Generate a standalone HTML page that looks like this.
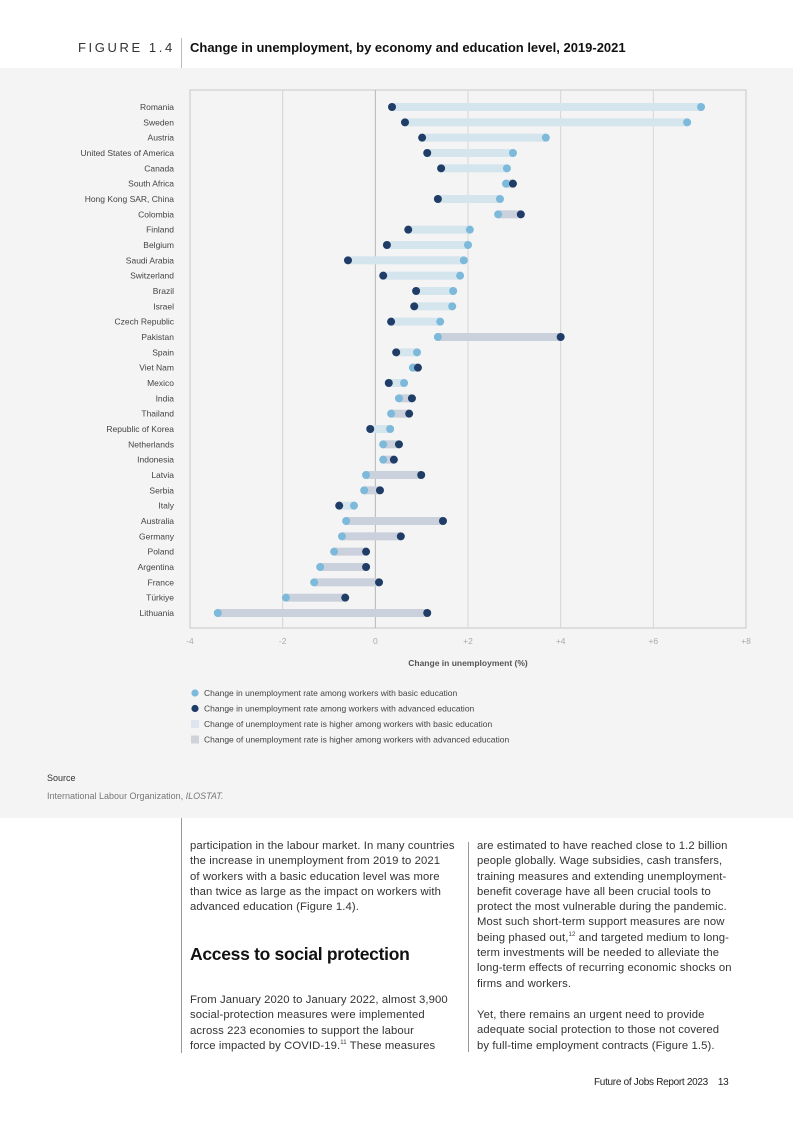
<!DOCTYPE html>
<html><head><meta charset="utf-8">
<style>
*{margin:0;padding:0;box-sizing:border-box}
body{width:793px;height:1122px;position:relative;background:#fff;font-family:"Liberation Sans",Arial,sans-serif;overflow:hidden}
.abs{position:absolute}
.body-text{font-size:11.3px;line-height:15.3px;color:#333;letter-spacing:0.1px;white-space:nowrap}
</style></head><body>
<div class="abs" style="left:78px;top:40px;font-size:13px;letter-spacing:2.6px;color:#333">FIGURE 1.4</div>
<div class="abs" style="left:181px;top:38px;width:1px;height:30px;background:#bbb"></div>
<div class="abs" style="left:190px;top:40px;font-size:13px;font-weight:bold;color:#111">Change in unemployment, by economy and education level, 2019-2021</div>
<div class="abs" style="left:0;top:68px;width:793px;height:750px;background:#f4f4f4"></div>
<svg class="abs" style="left:0;top:0" width="793" height="818" id="chart"></svg>
<div class="abs" style="left:47px;top:773px;font-size:9px;color:#333">Source</div>
<div class="abs" style="left:47px;top:791px;font-size:9px;color:#777">International Labour Organization, <i>ILOSTAT.</i></div>
<div class="abs" style="left:181px;top:818px;width:1px;height:235px;background:#999"></div>
<div class="abs" style="left:468px;top:842px;width:1px;height:210px;background:#999"></div>
<div class="abs body-text" style="left:190px;top:839px">participation in the labour market. In many countries<br>the increase in unemployment from 2019 to 2021<br>of workers with a basic education level was more<br>than twice as large as the impact on workers with<br>advanced education (Figure 1.4).</div>
<div class="abs" style="left:190px;top:944px;font-size:17.5px;font-weight:bold;color:#111;letter-spacing:-0.3px">Access to social protection</div>
<div class="abs body-text" style="left:190px;top:993px">From January 2020 to January 2022, almost 3,900<br>social-protection measures were implemented<br>across 223 economies to support the labour<br>force impacted by COVID-19.<sup style="font-size:6px;line-height:0">11</sup> These measures</div>
<div class="abs body-text" style="left:477px;top:839px">are estimated to have reached close to 1.2 billion<br>people globally. Wage subsidies, cash transfers,<br>training measures and extending unemployment-<br>benefit coverage have all been crucial tools to<br>protect the most vulnerable during the pandemic.<br>Most such short-term support measures are now<br>being phased out,<sup style="font-size:6px;line-height:0">12</sup> and targeted medium to long-<br>term investments will be needed to alleviate the<br>long-term effects of recurring economic shocks on<br>firms and workers.</div>
<div class="abs body-text" style="left:477px;top:1008px">Yet, there remains an urgent need to provide<br>adequate social protection to those not covered<br>by full-time employment contracts (Figure 1.5).</div>
<div class="abs" style="left:594px;top:1077px;font-size:10px;color:#222;letter-spacing:-0.3px">Future of Jobs Report 2023 &nbsp;&nbsp;&nbsp;13</div>
<script>
const countries=["Romania","Sweden","Austria","United States of America","Canada","South Africa","Hong Kong SAR, China","Colombia","Finland","Belgium","Saudi Arabia","Switzerland","Brazil","Israel","Czech Republic","Pakistan","Spain","Viet Nam","Mexico","India","Thailand","Republic of Korea","Netherlands","Indonesia","Latvia","Serbia","Italy","Australia","Germany","Poland","Argentina","France","Türkiye","Lithuania"];
const basicEdu=[7.03,6.73,3.68,2.97,2.84,2.82,2.69,2.65,2.04,2.0,1.91,1.83,1.68,1.66,1.40,1.35,0.90,0.81,0.62,0.51,0.34,0.32,0.17,0.17,-0.20,-0.24,-0.46,-0.63,-0.72,-0.89,-1.19,-1.32,-1.93,-3.40];
const advancedEdu=[0.36,0.64,1.01,1.12,1.42,2.97,1.35,3.14,0.71,0.25,-0.59,0.17,0.88,0.84,0.34,4.0,0.45,0.92,0.29,0.79,0.73,-0.11,0.51,0.40,0.99,0.10,-0.78,1.46,0.55,-0.20,-0.20,0.08,-0.65,1.12];
const xTicks=[-4,-2,0,2,4,6,8];
const xTickLabels=["-4","-2","0","+2","+4","+6","+8"];
const legendLabels=["Change in unemployment rate among workers with basic education","Change in unemployment rate among workers with advanced education","Change of unemployment rate is higher among workers with basic education","Change of unemployment rate is higher among workers with advanced education"];

const NS="http://www.w3.org/2000/svg";
const svg=document.getElementById('chart');
const L=190,R=746,T=90,B=628,xmin=-4,xmax=8;
const x=v=>L+(v-xmin)/(xmax-xmin)*(R-L);
const rowTop=107,rowStep=(613-107)/33;
const y=i=>rowTop+i*rowStep;
function mk(tag,attrs){const e=document.createElementNS(NS,tag);for(const k in attrs)e.setAttribute(k,attrs[k]);svg.appendChild(e);return e;}
const C_LIGHT="#7db9da",C_DARK="#1f3d66",BAR_B="#d5e5ee",BAR_A="#cbd1dc";

const frame=mk('rect',{x:L,y:T,width:R-L,height:B-T,fill:'none',stroke:'#c8c8c8','stroke-width':1});


xTicks.forEach((t,i)=>{
  if(t>xmin&&t<xmax){const g=mk('line',{x1:x(t),x2:x(t),y1:T,y2:B,stroke:t===0?'#b5b5b5':'#d6d6d6','stroke-width':1});
  
  }
  const tl=mk('text',{x:x(t),y:B+16,'text-anchor':'middle','font-size':8.5,fill:'#aaa'});
  tl.textContent=xTickLabels[i];
  
  
});
const xt=mk('text',{x:x(2),y:666,'text-anchor':'middle','font-size':8.5,'font-weight':'bold',fill:'#555'});
xt.textContent="Change in unemployment (%)";



countries.forEach((c,i)=>{
  const yy=y(i),b=basicEdu[i],a=advancedEdu[i];
  const lab=mk('text',{x:174,y:yy+3,'text-anchor':'end','font-size':8.5,fill:'#444'});
  lab.textContent=c;
  
  
  const bar=mk('rect',{x:Math.min(x(a),x(b)),y:yy-4,width:Math.abs(x(a)-x(b)),height:8,fill:b>=a?BAR_B:BAR_A});
  
  
  const db=mk('circle',{cx:x(b),cy:yy,r:4,fill:C_LIGHT});
  
  
  const da=mk('circle',{cx:x(a),cy:yy,r:4,fill:C_DARK});
  
  
});

legendLabels.forEach((t,i)=>{
  const ly=693+i*15.5;
  let m;
  if(i<2){m=mk('circle',{cx:195,cy:ly,r:3.6,fill:i===0?C_LIGHT:C_DARK});}
  else{m=mk('rect',{x:191,y:ly-4,width:8,height:8,fill:i===2?'#dde6ec':'#cfd3d9'});}
  
  
  const lt=mk('text',{x:204,y:ly+3,'font-size':8.5,fill:'#444'});
  lt.textContent=t;
  
  
});
</script>
</body></html>
